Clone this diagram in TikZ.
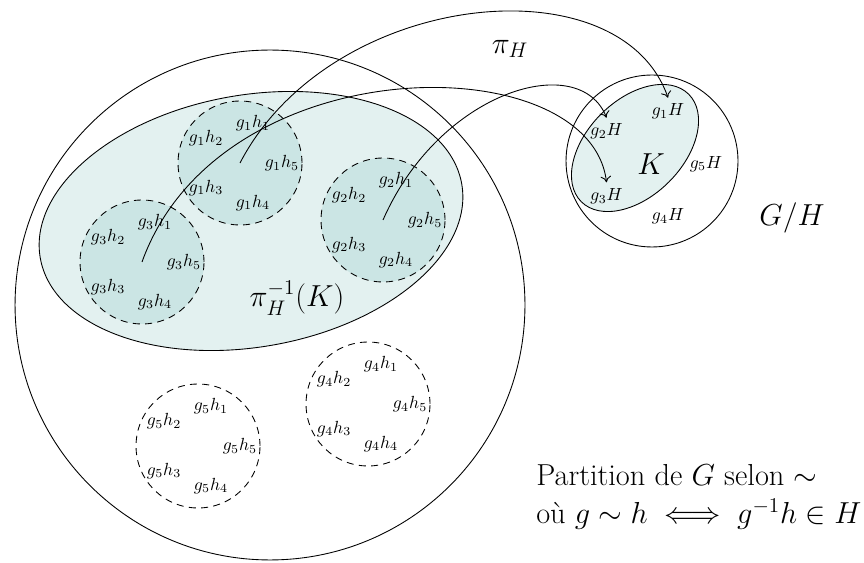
\documentclass[tikz,border=0pt]{standalone}
\usepackage{amsmath,amssymb}
\usepackage{xcolor}
\usepackage{tikz}
\usetikzlibrary{positioning,shapes.geometric,arrows.meta}
\definecolor{paleteal}{RGB}{227,241,240}
\definecolor{cosetteal}{RGB}{203,229,228}

\begin{document}
\begin{tikzpicture}[
  x=0.02cm, y=-0.02cm, line width=0.5pt,
  coset/.style={circle, draw, dash pattern=on 4pt off 3pt, minimum size=2.48cm, inner sep=0pt},
  big/.style={font=\LARGE},
  arr/.style={-{To[length=3.5pt,width=6pt]}}]
\useasboundingbox (0,0) rectangle (864,563);
% the group G and the preimage of K
\node[circle, draw, minimum size=10.2cm, inner sep=0pt] (G) at (270,305) {};
\node[ellipse, draw, fill=paleteal, minimum width=8.56cm, minimum height=5.04cm, inner sep=0pt, rotate=10] (pre) at (251,221) {};
\node[coset, fill=cosetteal] (c1) at (240,163) {};
\node[coset, fill=cosetteal] (c2) at (383,220) {};
\node[coset, fill=cosetteal] (c3) at (142,262) {};
\node[coset] (c4) at (368,404) {};
\node[coset] (c5) at (198,446) {};
\foreach \g in {1,...,5}
  \foreach \k in {1,...,5}
    \node[shift={(72*\k:0.84cm)}] (c\g-h\k) at (c\g) {$g_\g h_\k$};
% the quotient G/H
\node[circle, draw, minimum size=3.44cm, inner sep=0pt] (quot) at (652,161) {};
\node[ellipse, draw, fill=paleteal, minimum width=3.04cm, minimum height=1.92cm, inner sep=0pt, rotate=45] (Kell) at (635,148) {};
\node[big] (K) at (651,164) {$K$};
\foreach \k in {1,...,5}
  \node[shift={(72*\k:1.1cm)}] (gH\k) at (K) {$g_\k H$};
% projection
\draw[arr] (c1.center) .. controls (330,-10) and (620,-40) .. (gH1.north);
\draw[arr] (c2.center) .. controls (440,90) and (580,50) .. (gH2.north);
\draw[arr] (c3.center) .. controls (220,45) and (590,45) .. (gH3.north);
\node[big] (pi) at (510,49) {$\pi_H$};
\node[big] (prelab) at (297,298) {$\pi_H^{-1}(K)$};
\node[big] (GH) at (792,218) {$G/H$};
\node[big, anchor=west, align=left] (part) at (530,497) {Partition de $G$ selon $\sim$\\o\`u $g\sim h\iff g^{-1}h\in H$};
\end{tikzpicture}
\end{document}
